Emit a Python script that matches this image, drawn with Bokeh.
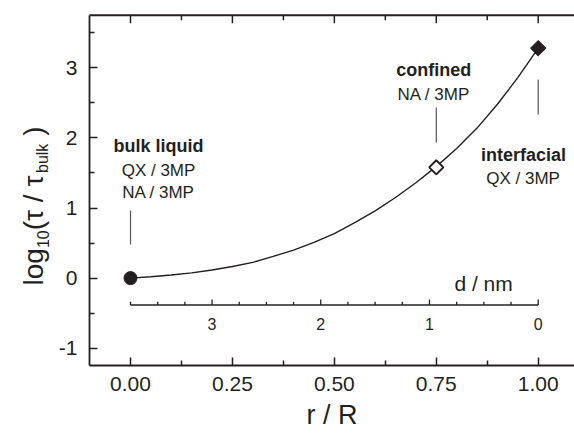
import math
from bokeh.plotting import figure
from bokeh.models import Range1d, Label, FixedTicker, PrintfTickFormatter
from bokeh.core.properties import value
from bokeh.embed import file_html
from bokeh.resources import INLINE

# ---------------- data ----------------
curve_r = [0.00, 0.05, 0.10, 0.15, 0.20, 0.25, 0.30, 0.35, 0.40, 0.45, 0.50,
           0.55, 0.60, 0.65, 0.70, 0.75, 0.80, 0.85, 0.90, 0.95, 1.00]
curve_log_tau = [0.00, 0.02, 0.045, 0.075, 0.115, 0.165, 0.225, 0.31, 0.40, 0.51, 0.635,
                 0.79, 0.96, 1.15, 1.36, 1.59, 1.85, 2.14, 2.48, 2.86, 3.28]

regime_names = ["bulk liquid", "confined", "interfacial"]
regime_systems = [["QX / 3MP", "NA / 3MP"], ["NA / 3MP"], ["QX / 3MP"]]
point_r = [0.0, 0.75, 1.0]
point_log_tau = [0.0, 1.58, 3.28]

x_ticks = [0.0, 0.25, 0.5, 0.75, 1.0]
x_minor = [0.125, 0.375, 0.625, 0.875]
y_ticks = [-1, 0, 1, 2, 3]
y_minor = [-0.5, 0.5, 1.5, 2.5, 3.5]

pore_radius_nm = 3.75
d_major = [3, 2, 1, 0]
d_minor = [3.75, 3.5, 3.25, 2.75, 2.5, 2.25, 1.75, 1.5, 1.25, 0.75, 0.5, 0.25]

# ---------------- layout / styling ----------------
INK = "#231f20"
FONT = "Liberation Sans"
W, H = 574, 434
PX_X = 407.7            # px per unit of r / R
PX_Y = 70.1             # px per unit of log10
ORG_X, ORG_Y = 130.0, 277.6   # screen position of (0, 0)
FX0, FX1 = -ORG_X / PX_X, (W - ORG_X) / PX_X
FY0, FY1 = -(H - ORG_Y) / PX_Y, ORG_Y / PX_Y
AX_L = -0.1006          # data x of the left axis
AY_B, AY_T = -1.25, 3.75  # data y of bottom and top axes

p = figure(width=W, height=H, x_range=Range1d(FX0, FX1), y_range=Range1d(FY0, FY1),
           output_backend="svg", toolbar_location=None,
           min_border_left=0, min_border_right=0, min_border_top=0, min_border_bottom=0)
p.outline_line_color = None
p.grid.visible = False
p.background_fill_color = "white"
p.border_fill_color = "white"

xax = p.below[0]
yax = p.left[0]


def style_axis(ax, ticks, minor):
    ax.ticker = FixedTicker(ticks=ticks, minor_ticks=minor)
    ax.axis_line_color = INK
    ax.axis_line_width = 1.8
    ax.major_tick_line_color = INK
    ax.major_tick_line_width = 1.5
    ax.minor_tick_line_color = INK
    ax.minor_tick_line_width = 1.5
    ax.major_tick_in = 8
    ax.major_tick_out = 0
    ax.minor_tick_in = 5
    ax.minor_tick_out = 0
    ax.major_label_text_font = FONT
    ax.major_label_text_font_size = "21px"
    ax.major_label_text_color = INK


style_axis(xax, x_ticks, x_minor)
style_axis(yax, y_ticks, y_minor)

xax.fixed_location = AY_B
xax.bounds = (AX_L, FX1)
xax.formatter = PrintfTickFormatter(format="%.2f")
xax.major_label_standoff = 11
xax.axis_label = "r / R"
xax.axis_label_text_font = FONT
xax.axis_label_text_font_size = "27px"
xax.axis_label_text_font_style = "normal"
xax.axis_label_text_color = INK
xax.axis_label_standoff = 6

yax.fixed_location = AX_L
yax.bounds = (AY_B, AY_T)
yax.formatter = PrintfTickFormatter(format="%d")
yax.major_label_standoff = 12

# top frame line with inward ticks (mirror of the bottom axis, no labels)
p.segment(x0=[AX_L], x1=[FX1], y0=[AY_T], y1=[AY_T], line_color=INK, line_width=1.8)
p.segment(x0=x_ticks, x1=x_ticks, y0=[AY_T] * len(x_ticks),
          y1=[AY_T - 8 / PX_Y] * len(x_ticks), line_color=INK, line_width=1.5)
p.segment(x0=x_minor, x1=x_minor, y0=[AY_T] * len(x_minor),
          y1=[AY_T - 5 / PX_Y] * len(x_minor), line_color=INK, line_width=1.5)

# ---------------- curve and points ----------------
p.line(curve_r, curve_log_tau, line_color=INK, line_width=1.4)

p.scatter([point_r[0]], [point_log_tau[0]], marker="circle", size=13,
          fill_color=INK, line_color=INK)
p.scatter([point_r[1]], [point_log_tau[1]], marker="square", size=10, angle=math.pi / 4,
          fill_color="white", line_color=INK, line_width=2)
p.scatter([point_r[2]], [point_log_tau[2]], marker="square", size=11, angle=math.pi / 4,
          fill_color=INK, line_color=INK)

# ---------------- secondary d / nm scale inside the plot ----------------
def d_to_r(d):
    return 1 - d / pore_radius_nm

axis_y = -0.384
p.segment(x0=[d_to_r(max(d_minor))], x1=[d_to_r(0)], y0=[axis_y], y1=[axis_y],
          line_color=INK, line_width=1.3)
p.segment(x0=[d_to_r(d) for d in d_major], x1=[d_to_r(d) for d in d_major],
          y0=[axis_y] * len(d_major), y1=[axis_y + 5.5 / PX_Y] * len(d_major),
          line_color=INK, line_width=1.3)
p.segment(x0=[d_to_r(d) for d in d_minor], x1=[d_to_r(d) for d in d_minor],
          y0=[axis_y] * len(d_minor), y1=[axis_y + 3.2 / PX_Y] * len(d_minor),
          line_color=INK, line_width=1.3)
p.text(x=[d_to_r(d) for d in d_major], y=[axis_y - 19 / PX_Y] * len(d_major),
       text=[str(d) for d in d_major], text_align="center", text_baseline="alphabetic",
       text_font=value(FONT), text_font_size="16px", text_color=INK)
p.add_layout(Label(x=0.866, y=-0.077, text="d / nm", text_align="center",
                   text_baseline="alphabetic", text_font=FONT, text_font_size="21px",
                   text_color=INK))

# ---------------- regime annotations ----------------
name_pos = [(0.0687, 1.882), (0.744, 2.969), (0.964, 1.749)]
sys_pos = [[(0.0687, 1.535), (0.0687, 1.221)], [(0.744, 2.626)], [(0.963, 1.421)]]
tick_span = [(0.479, 0.964), (1.934, 2.434), (2.334, 2.833)]

for i, name in enumerate(regime_names):
    nx, ny = name_pos[i]
    p.add_layout(Label(x=nx, y=ny, text=name, text_align="center", text_baseline="alphabetic",
                       text_font=FONT, text_font_size="18px", text_font_style="bold",
                       text_color=INK))
    for sysname, (sx, sy) in zip(regime_systems[i], sys_pos[i]):
        p.add_layout(Label(x=sx, y=sy, text=sysname, text_align="center",
                           text_baseline="alphabetic", text_font=FONT,
                           text_font_size="17px", text_color=INK))
    y_lo, y_hi = tick_span[i]
    p.segment(x0=[point_r[i]], x1=[point_r[i]], y0=[y_lo], y1=[y_hi],
              line_color="#555555", line_width=1.2)

# ---------------- y-axis title with subscripts ----------------
ylab_x = (33 - ORG_X) / PX_X      # baseline of main text (screen x ~ 33)
ylab_y = (ORG_Y - 285) / PX_Y     # start of text (screen y ~ 285)
pieces = [("log", "28px", 0.0, 0.0),
          ("10", "16px", 9.0, 37.4),
          ("(τ / τ", "28px", 0.0, 55.2),
          ("bulk", "16px", 9.0, 112.5),
          (")", "28px", 0.0, 149.8)]
for txt, size, sub_px, along_px in pieces:
    p.add_layout(Label(x=ylab_x + sub_px / PX_X, y=ylab_y + along_px / PX_Y, text=txt,
                       angle=math.pi / 2, text_align="left", text_baseline="alphabetic",
                       text_font=FONT, text_font_size=size, text_color=INK))

open("out.html", "w").write(file_html(p, INLINE))
